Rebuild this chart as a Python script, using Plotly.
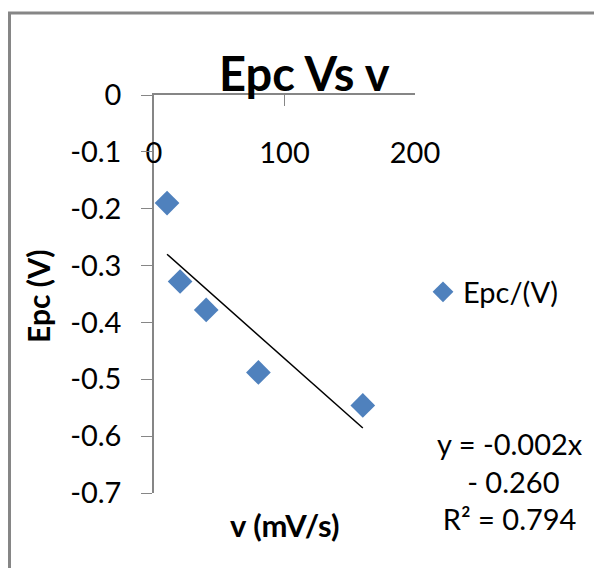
import numpy as np
import plotly.graph_objects as go

# Cathodic peak potential against scan rate
scan_rate = [10, 20, 40, 80, 160]                 # v (mV/s)
epc = [-0.190, -0.328, -0.378, -0.488, -0.546]     # Epc (V)

x_ticks = [0, 100, 200]
x_tick_text = ["0", "100", "200"]
y_ticks = [0, -0.1, -0.2, -0.3, -0.4, -0.5, -0.6, -0.7]
y_tick_text = ["0", "-0.1", "-0.2", "-0.3", "-0.4", "-0.5", "-0.6", "-0.7"]

# Linear least-squares trendline
slope, intercept = np.polyfit(scan_rate, epc, 1)
pred = slope * np.array(scan_rate) + intercept
ss_res = np.sum((np.array(epc) - pred) ** 2)
ss_tot = np.sum((np.array(epc) - np.mean(epc)) ** 2)
r2 = 1 - ss_res / ss_tot
fit_x = [min(scan_rate), max(scan_rate)]
fit_y = [slope * v + intercept for v in fit_x]
sign = "-" if intercept < 0 else "+"
eq_text = f"y = {slope:.3f}x<br> {sign} {abs(intercept):.3f}<br>R² = {r2:.3f}"

W, H = 594, 568
FONT = "Lato"
GRAY = "#868686"
BLUE = "#4F81BD"


def px(x):
    return x / W


def py(y):
    return 1 - y / H


fig = go.Figure()
fig.add_trace(go.Scatter(
    x=scan_rate, y=epc, mode="markers", name="Epc/(V)",
    marker=dict(symbol="diamond", size=19, color=BLUE, line=dict(width=0)),
))
fig.add_trace(go.Scatter(
    x=fit_x, y=fit_y, mode="lines", showlegend=False,
    line=dict(color="black", width=1.5),
))

fig.update_layout(
    width=W, height=H,
    margin=dict(l=0, r=0, t=0, b=0, autoexpand=False),
    paper_bgcolor="white", plot_bgcolor="white",
    font=dict(family=FONT, size=29, color="black"),
    showlegend=True,
    legend=dict(x=px(423), y=py(292), xanchor="left", yanchor="middle",
                font=dict(family=FONT, size=29, color="black"),
                bgcolor="rgba(0,0,0,0)"),
    xaxis=dict(
        domain=[px(154), px(415)], range=[0, 200], side="top",
        tickvals=x_ticks, ticktext=x_tick_text,
        ticks="inside", ticklen=11, tickcolor=GRAY, tickwidth=1.3,
        ticklabelposition="inside", ticklabelstandoff=40,
        ticklabeloverflow="allow", automargin=False,
        showline=True, linecolor=GRAY, linewidth=1.5,
        showgrid=False, zeroline=False,
        tickfont=dict(family=FONT, size=29, color="black"),
    ),
    yaxis=dict(
        domain=[py(493), py(95)], range=[-0.7, 0],
        tickvals=y_ticks, ticktext=y_tick_text,
        ticks="outside", ticklen=11, tickcolor=GRAY, tickwidth=1.3,
        ticklabelstandoff=14, automargin=False,
        showline=True, linecolor=GRAY, linewidth=1.5,
        showgrid=False, zeroline=False,
        tickfont=dict(family=FONT, size=29, color="black"),
    ),
    shapes=[dict(type="rect", xref="paper", yref="paper",
                 x0=px(9.5), x1=1.2, y0=-0.2, y1=py(13),
                 line=dict(color=GRAY, width=3), fillcolor="rgba(0,0,0,0)",
                 layer="above")],
    annotations=[
        dict(text="<b>Epc Vs v</b>", x=px(304), y=py(73), xref="paper", yref="paper",
             showarrow=False, xanchor="center", yanchor="middle",
             font=dict(family=FONT, size=47, color="black")),
        dict(text="<b>Epc (V)</b>", x=px(38), y=py(296), xref="paper", yref="paper",
             showarrow=False, textangle=-90, xanchor="center", yanchor="middle",
             font=dict(family=FONT, size=30, color="black")),
        dict(text="<b>v (mV/s)</b>", x=px(284), y=py(525), xref="paper", yref="paper",
             showarrow=False, xanchor="center", yanchor="middle",
             font=dict(family=FONT, size=31, color="black")),
        dict(text=eq_text, x=px(510), y=py(481), xref="paper", yref="paper",
             showarrow=False, xanchor="center", yanchor="middle", align="center",
             font=dict(family=FONT, size=29, color="black")),
    ],
)

fig.write_html("out.html")
